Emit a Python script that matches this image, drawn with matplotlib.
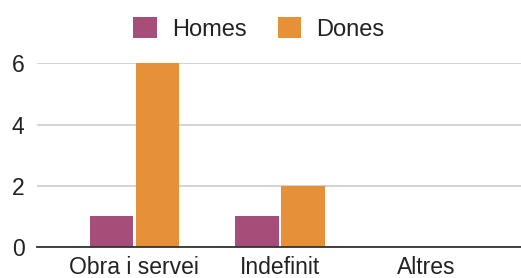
import matplotlib
matplotlib.use("Agg")
import matplotlib.pyplot as plt
import numpy as np

categories = ["Obra i servei", "Indefinit", "Altres"]
homes = [1, 1, 0]
dones = [6, 2, 0]
yticks = [0, 2, 4, 6]

plt.rcParams["font.family"] = ["Liberation Sans", "DejaVu Sans"]

fig = plt.figure(figsize=(5.21, 2.78), dpi=100)
ax = fig.add_axes([0.071, 0.1126, 0.929, 0.659])

x = np.arange(len(categories))
w = 0.30
off = 0.158
ax.bar(x - off, homes, w, color="#a64d79", label="Homes", zorder=3)
ax.bar(x + off, dones, w, color="#e69138", label="Dones", zorder=3)

ax.set_xlim(-0.668, 2.65)
ax.set_ylim(0, 6)
ax.set_yticks(yticks)
ax.set_xticks(x)
ax.set_xticklabels(categories)
ax.tick_params(axis="both", length=0, labelsize=16.5, colors="#222222")
ax.tick_params(axis="y", pad=9)
ax.tick_params(axis="x", pad=7)
ax.grid(axis="y", color="#cccccc", linewidth=1.2, zorder=0)
for s in ["top", "right", "left"]:
    ax.spines[s].set_visible(False)
ax.spines["bottom"].set_color("#333333")
ax.spines["bottom"].set_linewidth(1.3)
ax.spines["bottom"].set_zorder(4)

fig.legend(loc="center", bbox_to_anchor=(0.497, 0.895), ncol=2, frameon=False,
           fontsize=17, handlelength=1.0, handleheight=1.0, columnspacing=1.3,
           handletextpad=0.65, labelcolor="#222222")

fig.savefig("out.png", dpi=100)
